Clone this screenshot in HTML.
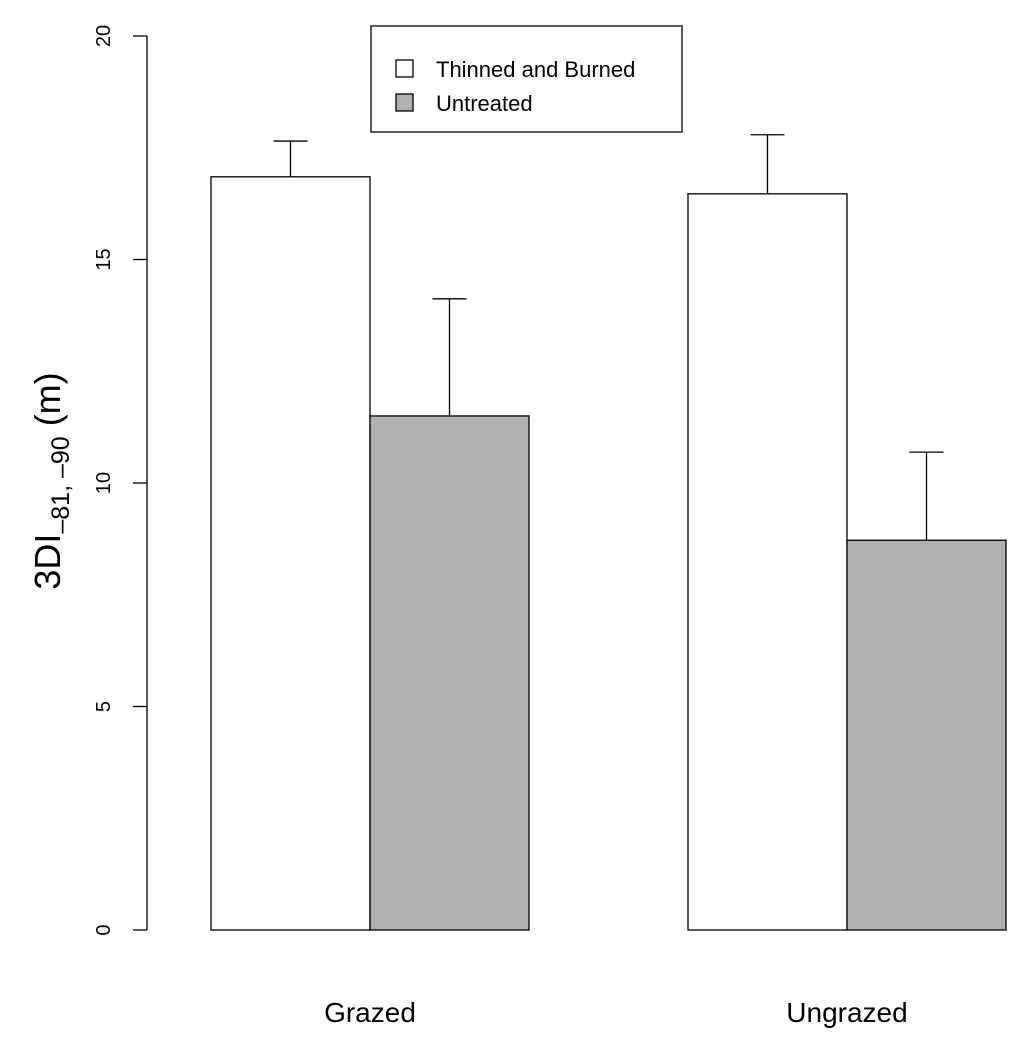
<!DOCTYPE html>
<html><head><meta charset="utf-8"><style>
html,body{margin:0;padding:0;background:#fff}
svg{display:block;font-family:"Liberation Sans",Arial,sans-serif}
</style></head><body>
<svg id="chart" width="1024" height="1048" viewBox="0 0 1024 1048">
<g id="axis"></g>
<g id="bars"></g>
<g id="legend">
  <rect x="371" y="26" width="311" height="106" fill="#fff" stroke="#000" stroke-width="1.3"/>
  <rect x="396" y="60" width="17" height="17" fill="#fff" stroke="#000" stroke-width="1.3"/>
  <text x="436" y="77" font-size="22">Thinned and Burned</text>
  <rect x="396" y="94" width="17" height="17" fill="#b0b0b0" stroke="#000" stroke-width="1.3"/>
  <text x="436" y="111" font-size="22">Untreated</text>
</g>
<text transform="translate(60,481) rotate(-90)" text-anchor="middle" font-size="36">3DI<tspan font-size="25" dy="9">–81, –90</tspan><tspan dy="-9"> (m)</tspan></text>
</svg>
<script>
const categories = ["Grazed", "Ungrazed"];
const seriesNames = ["Thinned and Burned", "Untreated"];
const thinnedValues = [16.85, 16.47];
const thinnedErrors = [17.65, 17.79];
const untreatedValues = [11.5, 8.72];
const untreatedErrors = [14.12, 10.69];
const yTicks = [0, 5, 10, 15, 20];

const NS = "http://www.w3.org/2000/svg";
const y = v => 930 - v * 44.7;
const groupLeft = i => 211 + i * 477;
const barW = 159;
function mk(tag, attrs, parent) {
  const e = document.createElementNS(NS, tag);
  for (const k in attrs) e.setAttribute(k, attrs[k]);
  parent.appendChild(e);
  return e;
}
const axis = document.getElementById('axis');
const al = mk('line', {x1:147, x2:147, y1:y(0), y2:y(20), stroke:'#000', 'stroke-width':1.3}, axis);


yTicks.forEach(t => {
  const l = mk('line', {x1:133, x2:147, y1:y(t), y2:y(t), stroke:'#000', 'stroke-width':1.3}, axis);
  
  
  const tx = mk('text', {transform:`translate(110,${y(t)}) rotate(-90)`, 'text-anchor':'middle', 'font-size':20}, axis);
  tx.textContent = t;
  
  
});
const bars = document.getElementById('bars');
categories.forEach((c, i) => {
  const series = [[thinnedValues[i], thinnedErrors[i], '#fff'], [untreatedValues[i], untreatedErrors[i], '#b0b0b0']];
  series.forEach((s, j) => {
    const x = groupLeft(i) + j * barW;
    const cx = x + barW / 2;
    const el = mk('line', {x1:cx, x2:cx, y1:y(s[0]), y2:y(s[1]), stroke:'#000', 'stroke-width':1.3}, bars);
    
    
    const cap = mk('line', {x1:cx-17, x2:cx+17, y1:y(s[1]), y2:y(s[1]), stroke:'#000', 'stroke-width':1.3}, bars);
    
    
    const r = mk('rect', {x:x, y:y(s[0]), width:barW, height:y(0)-y(s[0]), fill:s[2], stroke:'#000', 'stroke-width':1.3}, bars);
    
    
  });
  const lab = mk('text', {x:groupLeft(i) + barW, y:1022, 'text-anchor':'middle', 'font-size':28}, bars);
  lab.textContent = c;
  
  
});
</script>
</body></html>
